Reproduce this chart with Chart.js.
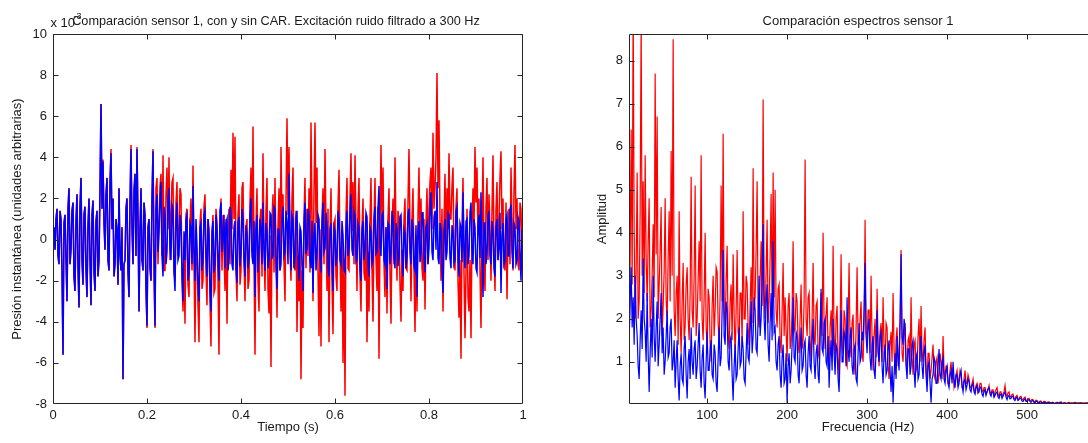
<!DOCTYPE html>
<html>
<head>
<meta charset="utf-8">
<script src="https://cdn.jsdelivr.net/npm/chart.js@4.4.0/dist/chart.umd.min.js"></script>
<style>
html, body { margin: 0; padding: 0; overflow: hidden; background: #fff; width: 1088px; height: 443px; }
canvas { position: absolute; top: 0; }
#timeChart { left: 0; }
#specChart { left: 580px; }
</style>
</head>
<body>
<canvas id="timeChart" width="552" height="443"></canvas>
<canvas id="specChart" width="556" height="443"></canvas>
<script>
// ticks (same as the matlab figure)
const tiempoTicks = [0, 0.2, 0.4, 0.6, 0.8, 1]
const presionTicks = [-8, -6, -4, -2, 0, 2, 4, 6, 8, 10]
const frecTicks = [100, 200, 300, 400, 500, 600]
const amplitudTicks = [1, 2, 3, 4, 5, 6, 7, 8]

// presion instantanea (x 10^-3), 1 s de registro
const presionConCar = [
  0.0, 0.6, -0.5, 1.0, 1.5, -0.8, -1.2, 1.4, 1.0, -1.6, -5.6, 0.8, 1.2, -1.0, -3.0, 1.5, 2.5, -1.2, -0.5, 1.4,
  1.8, -1.8, -2.5, 0.9, 2.2, -1.4, -3.3, 1.6, 3.0, -1.0, -2.2, 1.2, 1.6, -1.5, -2.8, 0.7, 2.0, -1.0, -3.2, 1.2,
  1.9, -1.6, -2.5, 0.9, 1.4, -1.8, -1.0, 2.5, 6.6, 1.5, 3.8, 0.8, -0.5, 2.2, 3.0, -1.0, -1.5, 2.8, 4.2, 0.5,
  2.0, -1.8, -1.2, 1.0, 0.5, -2.2, 2.5, -0.8, -1.5, 0.6, -6.8, -1.2, -1.0, 1.5, 2.0, -1.6, -2.8, 1.8, 4.4, 0.6,
  -1.2, 2.4, 3.2, -0.8, 4.4, 1.0, -3.5, 0.5, 2.5, -1.0, -1.5, 1.8, 1.2, -2.4, -4.2, 0.6, 1.0, -1.4, -2.0, 2.0,
  4.3, -0.5, -4.2, 1.5, 2.2, -0.6, 0.4, 1.9, 2.8, -0.8, -1.8, 1.6, 1.2, -1.2, -0.6, 2.0, 2.5, -0.4, -1.0, 1.7,
  1.5, -1.5, -2.5, 0.9, 1.8, -1.0, -0.8, 1.2, 0.8, -1.6, -3.0, 0.4, -1.0, 1.0, 1.2, -2.0, -1.6, 0.8, 0.6, -1.2,
  2.6, -0.6, -2.0, 1.0, -0.4, -2.2, -3.0, 0.6, 0.8, -1.5, -1.0, 1.2, 1.4, -0.8, -1.8, 1.0, 0.2, -2.4, -3.5, 0.4,
  0.9, -1.6, -1.2, 1.2, 0.5, -1.0, -2.0, 1.4, 1.8, -0.6, 0.2, 1.2, -1.4, 0.8, 1.0, -1.5, -0.8, 1.6, 1.3, -1.2,
  -1.5, 0.6, 0.9, -1.4, -2.1, 0.8, 1.1, -1.3, -0.6, 1.5, 1.0, -1.0, -1.8, 0.7, 0.3, -1.4, -0.9, 1.2, 2.0, -0.8,
  -1.2, 0.9, -2.8, 0.5, 1.2, -1.6, -0.5, 1.0, 0.6, -1.2, 1.8, -0.5, -1.5, 0.8, 0.4, -1.4, -1.0, 1.3, 1.2, -0.9,
  -0.8, 1.6, 1.5, -1.2, -2.4, 0.5, 0.5, -1.5, -1.2, 1.0, 1.6, -0.8, -0.6, 1.4, 0.8, -1.2, 3.2, 0.3, -1.5, 1.2,
  1.0, -1.4, -0.8, 1.1, 1.4, -0.9, -2.0, 0.6, 0.4, -1.3, -2.5, 0.8, 1.8, -0.7, -0.4, 1.5, 1.2, -1.0, -1.4, 0.9,
  -2.6, 0.2, 0.8, -1.5, -0.6, 1.2, 1.0, -0.8, -1.6, 0.7, 1.8, -0.6, -0.4, 1.3, 0.6, -1.4, -1.8, 0.5, 0.8, -1.2,
  -2.5, 0.6, 0.4, -1.3, -0.8, 1.4, 1.0, -1.0, -1.2, 0.9, 0.2, -1.5, -1.6, 0.6, 1.4, -0.8, -0.4, 1.2, 2.2, -0.5,
  -0.8, 1.4, 1.2, -1.1, -1.0, 0.8, 0.6, -1.4, -2.0, 0.5, 0.9, -1.0, -0.5, 1.3, 1.1, -1.2, -1.8, 0.6, 0.4, -1.2,
  -1.0, 1.0, 1.6, -0.7, -0.6, 1.5, 2.6, -0.4, -0.8, 1.2, 1.3, -1.0, -1.2, 0.6, -2.4, 0.8, 0.7, -1.2, -0.6, 1.4,
  1.0, -0.9, -1.4, 0.8, 0.5, -1.3, -0.9, 1.1, 1.2, -0.7, -1.8, 0.5, 0.3, -1.4, -0.8, 1.2, 1.5, -0.6, -1.2, 1.0,
  0.6, -1.3, -1.5, 0.7, -2.8, 0.4, 0.9, -1.1, -0.7, 1.3, 1.3, -0.8, -1.6, 0.6, 0.8, -1.2, -0.4, 1.6, 2.3, -0.6,
  -1.0, 1.1, 1.4, -0.5, 2.8, -0.9, -1.2, 0.8, 0.5, -1.5, -2.6, 0.4, 1.0, -1.0, -0.6, 1.3, 1.2, -0.9, -1.4, 0.7,
  0.4, -1.2, -1.0, 1.4, 1.6, -0.6, -1.8, 0.8, 0.6, -1.1, 2.3, -0.4, -1.4, 0.9, 1.0, -1.2, -0.8, 1.3, 1.8, -0.5,
  -1.2, 1.0, 0.6, -1.4, -1.6, 0.7, 1.2, -0.9, 2.3, -0.3, -2.8, 0.8, 0.8, -1.2, -0.6, 1.1, 1.4, -0.8, -1.2, 0.9,
  0.5, -1.4, -1.8, 0.6, 1.0, -1.0, -0.4, 1.3, -2.6, 0.3, 0.8, -1.2, -1.0, 1.0, 1.2, -0.8, -0.8, 1.4, 1.7, -0.6,
  -1.4, 0.8, 0.6, -1.2, -1.0, 1.1, 0.9, -0.7, -2.0, 0.5, -0.8
]

const presionSinCar = [
  0.0, 0.6, -0.5, 1.0, 1.5, -0.8, -1.2, 1.4, 1.0, -1.6, -5.6, 0.8, 1.2, -1.0, -3.0, 1.5, 2.5, -1.2, -0.5, 1.4,
  1.8, -1.8, -2.5, 0.9, 2.2, -1.4, -3.3, 1.6, 3.0, -1.0, -2.2, 1.2, 1.6, -1.5, -2.8, 0.7, 2.0, -1.0, -3.2, 1.2,
  1.9, -1.6, -2.5, 0.9, 1.4, -1.8, -1.0, 2.5, 6.6, 1.5, 3.9, 0.8, -0.5, 2.2, 3.0, -1.0, -1.5, 2.8, 4.4, 0.5,
  2.0, -1.8, -1.2, 1.0, 0.5, -2.2, 2.5, -0.8, -1.5, 0.6, -6.8, -1.2, -1.0, 1.5, 2.0, -1.6, -2.8, 1.8, 4.6, 0.6,
  -1.2, 2.4, 3.2, -0.8, 4.5, 1.0, -3.5, 0.5, 2.5, -1.0, -1.5, 1.8, 1.2, -2.4, -4.3, 0.6, 1.0, -1.4, -2.0, 2.0,
  4.4, -2.0, -4.3, 2.5, 3.0, -1.2, 0.8, 2.6, 3.2, -0.8, 4.1, -1.5, -1.5, 2.2, 3.5, 0.5, 4.0, -1.0, 1.2, 2.8,
  3.0, -1.6, -2.0, 1.8, 2.8, -0.8, 0.5, 2.5, 2.2, -2.0, -3.5, -1.0, -4.1, 1.2, 1.5, -2.2, -2.8, 0.8, 2.0, -1.5,
  3.6, -1.0, -5.0, 0.5, -1.0, -3.2, -5.0, 0.8, 1.5, -2.4, -2.0, 1.6, 2.2, -1.5, -3.2, 1.0, 0.5, -3.0, -5.2, 0.2,
  1.2, -2.6, -2.4, 1.5, 0.8, -2.0, -5.6, 0.6, 2.0, -1.5, 1.2, -0.5, -2.5, 1.0, -4.1, 0.8, 1.5, -1.2, 3.4, 0.5,
  5.2, 1.0, 5.0, -1.5, -3.0, 1.2, 2.2, -2.2, -1.5, 2.5, 2.8, -1.0, -3.0, 0.6, 1.0, -2.4, -2.0, 1.8, 3.5, -0.6,
  5.5, -1.0, -5.6, 0.8, 2.5, -2.0, -3.5, 1.0, 1.5, -1.8, 4.2, -0.5, -2.5, 1.4, 3.0, -2.4, -3.6, 0.2, -6.2, 1.0,
  2.2, -1.6, 3.0, -0.8, -3.8, 0.6, 2.5, -1.5, 4.5, 0.8, 2.2, -1.2, -3.0, 1.8, 5.9, 1.2, 4.5, -0.6, -2.0, 2.0,
  3.5, -1.2, -1.5, 1.4, -4.5, -0.8, -3.0, 0.5, -6.8, -1.5, -4.3, 1.0, 3.0, -1.4, 1.5, -0.8, 2.5, -1.6, 5.7, 1.2,
  -3.0, 2.4, 5.7, 0.8, 3.5, -1.6, -4.7, 0.5, -5.2, 1.0, 2.5, -1.2, 4.4, 0.6, -2.5, 1.5, -5.0, 0.2, 2.5, -2.0,
  -4.6, 0.8, 1.0, -1.8, -2.5, 1.6, 3.4, -0.6, -3.5, 0.4, -6.0, -1.0, -7.6, 1.2, 3.0, -1.4, -1.5, 2.0, 4.2, 0.4,
  2.8, -1.2, 4.1, 0.6, -2.5, 1.4, 3.0, -1.8, -3.5, 0.5, 2.0, -1.6, -2.0, 1.2, -5.0, -0.6, -3.5, 1.0, 3.0, -1.4,
  -4.0, 0.8, 3.0, -1.0, -2.5, 1.6, -5.8, 0.4, 4.6, 0.8, 3.5, -1.2, -2.8, 0.6, -3.6, 1.0, 2.5, -1.6, -4.1, 0.5,
  2.0, -1.2, 4.0, 0.4, -2.0, 1.4, 1.0, -2.2, -4.0, -0.5, -2.5, 1.0, 2.0, -1.4, -1.5, 1.8, 4.4, 0.6, -3.0, 1.0,
  2.5, -1.5, -4.5, 0.2, -3.5, 1.2, 3.5, -0.6, 2.0, -1.4, -2.0, 1.0, -3.4, 0.8, 2.5, -1.2, 1.5, 2.8, 3.5, 0.5,
  5.2, 1.5, 2.5, 4.0, 8.1, 2.5, 5.8, 1.0, -2.0, 1.5, -3.5, 0.8, 3.2, -0.6, 2.5, 0.5, 4.2, 1.0, 1.0, 2.6,
  3.5, -1.0, -1.5, 1.6, 2.5, -2.0, -3.8, -1.0, -5.8, 0.5, 3.0, -1.6, -4.8, -1.5, 1.5, -2.8, -3.5, -1.0, -4.8, 0.6,
  2.5, 0.5, 4.5, 1.8, 3.5, 0.2, 2.0, -1.5, -4.3, 0.4, 4.0, -0.8, -2.5, 1.6, 3.0, -1.0, 2.2, 0.5, -2.0, 1.4,
  4.1, -0.6, -2.5, 1.5, 2.8, -1.0, 1.0, 3.0, 4.3, 0.5, 2.0, -1.2, -1.5, 1.8, -2.9, 0.6, 1.5, -1.2, 3.5, 0.8,
  -1.5, 2.4, 4.6, 0.5, 2.0, -1.2, -1.5, 1.8, 1.5, -1.0, -2.0
]

// espectros, un valor cada 1.25 Hz empezando en 2.5 Hz
const f0 = 2.5
const df = 1.25
const espectroSinCar = [
  1.0, 3.5, 6.4, 2.8, 9.5, 4.0, 2.0, 3.2, 5.4, 2.0, 2.4, 4.5, 9.0, 3.0, 5.2, 2.6, 5.8, 3.4, 2.4, 3.8,
  4.8, 1.8, 2.2, 3.0, 4.2, 2.5, 7.7, 3.5, 6.7, 2.0, 2.8, 3.6, 4.6, 1.6, 2.3, 3.1, 4.8, 2.4, 2.0, 3.4,
  4.5, 2.4, 5.9, 3.0, 8.5, 2.2, 1.6, 2.6, 3.0, 1.4, 4.5, 2.0, 1.2, 2.4, 3.3, 1.5, 1.8, 2.8, 3.2, 2.0,
  1.5, 2.6, 5.3, 2.2, 1.8, 3.0, 5.1, 1.6, 2.0, 2.9, 3.8, 2.4, 5.8, 2.0, 1.5, 2.5, 4.0, 1.8, 1.3, 2.7,
  2.5, 1.4, 1.0, 2.3, 3.0, 1.6, 2.2, 3.2, 3.1, 1.9, 1.4, 2.6, 5.1, 2.4, 6.3, 2.2, 1.8, 2.9, 3.7, 1.6,
  1.3, 2.4, 2.8, 1.5, 3.5, 2.1, 1.1, 2.2, 3.6, 1.7, 1.5, 2.6, 2.6, 1.4, 4.5, 2.0, 2.0, 3.0, 2.8, 1.8,
  1.4, 2.3, 3.2, 1.9, 5.5, 2.2, 2.5, 3.6, 5.2, 2.0, 1.8, 2.9, 3.8, 2.3, 7.1, 2.6, 2.0, 3.1, 4.3, 1.9,
  2.4, 3.4, 4.9, 2.1, 5.4, 2.5, 5.0, 2.2, 1.8, 2.7, 2.8, 1.5, 1.2, 2.2, 3.3, 1.6, 2.5, 1.7, 1.0, 2.3,
  2.6, 1.3, 1.5, 2.2, 3.8, 1.7, 1.8, 2.6, 2.4, 1.4, 1.2, 2.0, 2.8, 1.3, 1.5, 2.4, 5.7, 2.0, 1.6, 2.5,
  2.6, 1.5, 1.0, 2.0, 3.3, 1.6, 1.4, 2.3, 2.4, 1.2, 1.1, 1.9, 2.6, 1.6, 4.0, 1.8, 1.3, 2.1, 2.5, 1.2,
  0.8, 1.8, 2.2, 1.3, 3.7, 1.6, 1.0, 2.0, 2.3, 1.1, 0.6, 1.7, 3.5, 1.4, 1.2, 2.2, 2.0, 1.0, 0.9, 1.8,
  3.3, 1.4, 1.1, 1.9, 2.1, 1.0, 0.7, 1.8, 3.2, 1.4, 1.3, 2.0, 2.4, 1.2, 1.0, 1.9, 4.3, 1.7, 1.5, 2.2,
  2.2, 1.2, 3.0, 1.5, 0.8, 1.6, 2.0, 1.1, 2.7, 1.4, 0.9, 1.7, 1.9, 1.0, 2.5, 1.3, 1.0, 1.9, 1.8, 0.9,
  0.6, 1.4, 1.7, 1.0, 2.6, 1.3, 0.7, 1.5, 1.8, 0.9, 1.2, 2.0, 3.6, 1.2, 1.0, 1.6, 1.9, 1.0, 0.8, 1.5,
  1.6, 0.9, 2.5, 1.1, 0.7, 1.4, 1.5, 0.8, 0.9, 1.6, 2.0, 1.0, 2.3, 1.2, 1.0, 1.5, 1.8, 0.8, 0.5, 1.2,
  1.2, 0.6, 0.8, 1.1, 1.4, 0.7, 0.6, 1.0, 1.1, 0.5, 0.7, 1.2, 1.0, 0.6, 1.6, 0.8, 0.6, 0.9, 0.9, 0.5,
  0.5, 0.8, 1.0, 0.6, 0.8, 0.4, 0.5, 0.7, 0.8, 0.5, 0.6, 0.8, 0.7, 0.4, 0.4, 0.6, 0.8, 0.5, 0.5, 0.7,
  0.6, 0.4, 0.4, 0.5, 0.6, 0.35, 0.3, 0.45, 0.5, 0.3, 0.4, 0.5, 0.5, 0.35, 0.3, 0.4, 0.4, 0.25, 0.3, 0.35,
  0.45, 0.3, 0.25, 0.35, 0.35, 0.2, 0.3, 0.35, 0.4, 0.25, 0.2, 0.3, 0.3, 0.2, 0.25, 0.3, 0.45, 0.25, 0.2, 0.28,
  0.3, 0.2, 0.18, 0.24, 0.25, 0.15, 0.15, 0.2, 0.22, 0.12, 0.14, 0.19, 0.2, 0.12, 0.12, 0.16, 0.18, 0.1, 0.1, 0.14,
  0.15, 0.09, 0.1, 0.13, 0.12, 0.07, 0.08, 0.11, 0.1, 0.06, 0.06, 0.09, 0.09, 0.05, 0.06, 0.08, 0.08, 0.05, 0.05, 0.07,
  0.07, 0.05, 0.05, 0.06, 0.06, 0.04, 0.04, 0.05, 0.06, 0.04, 0.05, 0.06, 0.07, 0.04, 0.04, 0.05, 0.05, 0.03, 0.04, 0.05,
  0.06, 0.04, 0.05, 0.03, 0.04, 0.05, 0.06, 0.04, 0.05, 0.03, 0.04, 0.05, 0.05, 0.04, 0.03, 0.04, 0.05, 0.03, 0.04, 0.05,
  0.05, 0.03, 0.04, 0.05, 0.03, 0.04, 0.05, 0.03, 0.04, 0.03, 0.03, 0.04, 0.04, 0.03, 0.05, 0.04, 0.03, 0.04, 0.04, 0.03
]

const espectroConCar = [
  1.6, 2.4, 3.2, 1.8, 2.5, 1.4, 3.0, 2.0, 1.6, 0.9, 0.6, 1.5, 2.2, 1.3, 3.4, 2.0, 1.7, 1.0, 2.6, 1.2,
  0.3, 1.2, 2.0, 1.1, 3.0, 1.6, 1.0, 1.8, 2.4, 0.9, 1.4, 2.0, 2.6, 1.2, 1.8, 0.7, 1.0, 1.6, 2.2, 1.1,
  1.2, 1.8, 2.0, 0.8, 1.0, 1.5, 0.4, 1.0, 1.5, 0.6, 0.1, 0.9, 1.2, 0.6, 0.5, 1.3, 1.6, 0.7, 0.15, 1.0,
  1.3, 0.6, 1.8, 1.0, 0.7, 1.3, 1.5, 0.6, 0.9, 1.4, 1.9, 0.8, 0.4, 1.1, 1.4, 0.5, 0.15, 1.0, 1.7, 0.8,
  0.8, 1.3, 1.5, 0.7, 0.6, 1.4, 1.2, 0.5, 0.3, 1.1, 1.8, 0.9, 1.1, 2.2, 3.6, 1.6, 1.4, 2.4, 2.2, 1.0,
  0.8, 1.5, 1.6, 0.7, 0.1, 0.9, 1.4, 0.6, 0.7, 1.3, 1.8, 0.9, 1.0, 1.6, 1.3, 0.6, 0.5, 1.2, 1.9, 1.1,
  1.0, 1.7, 2.4, 1.2, 1.6, 2.5, 2.2, 1.3, 1.2, 2.0, 3.0, 1.6, 2.0, 2.9, 4.2, 2.0, 1.5, 2.4, 2.8, 1.4,
  1.0, 1.9, 2.6, 1.5, 3.8, 1.7, 1.8, 1.0, 0.8, 1.4, 1.6, 0.7, 0.4, 1.1, 1.4, 0.5, 0.6, 1.2, 0.05, 0.9,
  1.2, 0.5, 0.8, 1.4, 2.5, 1.1, 1.0, 1.7, 1.6, 0.7, 0.5, 1.3, 1.8, 0.8, 0.9, 1.4, 1.5, 0.7, 0.4, 1.2,
  1.6, 0.9, 0.8, 1.5, 2.0, 1.0, 0.6, 1.2, 1.4, 0.7, 0.5, 1.5, 2.7, 1.3, 1.2, 1.9, 2.0, 1.0, 0.9, 1.6,
  0.4, 1.1, 1.5, 0.8, 2.0, 1.2, 0.7, 1.4, 1.3, 0.6, 0.3, 1.2, 2.2, 1.0, 1.0, 1.7, 1.6, 0.9, 2.5, 1.3,
  1.0, 1.6, 1.8, 0.9, 0.7, 1.3, 1.4, 0.6, 0.5, 1.2, 1.9, 1.0, 1.1, 1.7, 1.5, 2.2, 3.3, 1.6, 1.2, 1.8,
  2.0, 1.1, 0.8, 1.4, 1.6, 0.8, 0.6, 1.3, 2.2, 1.2, 1.0, 1.6, 1.7, 0.9, 0.5, 1.2, 1.4, 0.7, 0.8, 1.3,
  1.5, 0.8, 0.3, 0.9, 0.05, 0.7, 1.2, 0.6, 1.6, 1.1, 0.8, 1.9, 3.5, 1.6, 1.4, 2.0, 1.8, 0.9, 0.6, 1.3,
  1.3, 0.7, 0.9, 1.4, 1.5, 0.8, 0.4, 1.1, 1.2, 0.6, 0.7, 1.3, 1.6, 0.9, 0.6, 1.2, 1.4, 0.7, 0.3, 0.9,
  1.0, 0.5, 0.05, 0.6, 0.7, 1.1, 1.0, 0.5, 0.5, 0.9, 1.3, 0.7, 0.6, 1.0, 1.1, 0.6, 0.5, 0.8, 0.9, 0.5,
  0.4, 0.7, 0.8, 0.5, 1.0, 0.6, 0.4, 0.7, 0.7, 0.4, 0.5, 0.7, 0.8, 0.45, 0.3, 0.55, 0.6, 0.35, 0.45, 0.6,
  0.55, 0.35, 0.3, 0.45, 0.5, 0.3, 0.25, 0.4, 0.45, 0.28, 0.3, 0.42, 0.4, 0.25, 0.2, 0.32, 0.35, 0.22, 0.3, 0.38,
  0.4, 0.25, 0.2, 0.3, 0.3, 0.18, 0.22, 0.28, 0.3, 0.18, 0.15, 0.24, 0.25, 0.15, 0.2, 0.26, 0.3, 0.18, 0.12, 0.2,
  0.22, 0.14, 0.15, 0.2, 0.2, 0.12, 0.1, 0.16, 0.18, 0.1, 0.12, 0.16, 0.15, 0.09, 0.08, 0.12, 0.14, 0.08, 0.08, 0.11,
  0.12, 0.08, 0.06, 0.09, 0.1, 0.06, 0.05, 0.08, 0.08, 0.05, 0.05, 0.07, 0.07, 0.04, 0.04, 0.06, 0.06, 0.04, 0.04, 0.05,
  0.05, 0.03, 0.04, 0.05, 0.05, 0.03, 0.03, 0.04, 0.05, 0.03, 0.04, 0.05, 0.05, 0.03, 0.03, 0.04, 0.04, 0.03, 0.03, 0.04,
  0.04, 0.03, 0.03, 0.04, 0.04, 0.03, 0.05, 0.03, 0.03, 0.04, 0.04, 0.03, 0.03, 0.04, 0.04, 0.03, 0.03, 0.04, 0.04, 0.03,
  0.03, 0.04, 0.04, 0.03, 0.03, 0.04, 0.04, 0.03, 0.03, 0.04, 0.04, 0.03, 0.03, 0.04, 0.04, 0.03, 0.03, 0.04, 0.03, 0.03
]

const rojo = '#ff0000'
const azul = '#0000ff'
const texto = '#1a1a1a'
const familia = "'Liberation Sans', Arial, sans-serif"
const fuente = { family: familia, size: 13, weight: 'normal' }

const dt = 1 / (presionConCar.length - 1)
const serieTiempo = vals => vals.map((v, i) => ({ x: i * dt, y: v }))
const serieFrec = vals => vals.map((v, n) => ({ x: f0 + n * df, y: v }))

// ejes tipo matlab: caja cerrada, ticks hacia dentro, titulo y exponente
const matlabAxes = {
  id: 'matlabAxes',
  afterDatasetsDraw(chart, args, opts) {
    const { ctx, chartArea: a, scales: { x, y } } = chart
    const len = 5
    const L = Math.round(a.left) + 0.5, R = Math.round(a.right) - 0.5
    const T = Math.round(a.top) + 0.5, B = Math.round(a.bottom) - 0.5
    ctx.save()
    ctx.strokeStyle = '#262626'
    ctx.lineWidth = 1
    ctx.beginPath()
    x.ticks.forEach(t => {
      const px = Math.round(x.getPixelForValue(t.value)) + 0.5
      if (px < L || px > R) return
      ctx.moveTo(px, B); ctx.lineTo(px, B - len)
      ctx.moveTo(px, T); ctx.lineTo(px, T + len)
    })
    y.ticks.forEach(t => {
      const py = Math.round(y.getPixelForValue(t.value)) + 0.5
      if (py < T || py > B) return
      ctx.moveTo(L, py); ctx.lineTo(L + len, py)
      ctx.moveTo(R, py); ctx.lineTo(R - len, py)
    })
    ctx.rect(L, T, R - L, B - T)
    ctx.stroke()

    ctx.fillStyle = texto
    ctx.textBaseline = 'middle'
    if (opts.exponent) {
      ctx.textAlign = 'left'
      ctx.font = '13px ' + familia
      ctx.fillText('x 10', L - 3, T - 11)
      ctx.font = '9px ' + familia
      ctx.fillText(opts.exponent, L + 20, T - 18)
    }
    if (opts.title) {
      ctx.textAlign = 'center'
      ctx.font = opts.titleSize + 'px ' + familia
      ctx.fillText(opts.title, opts.titleX, 21)
    }
    ctx.restore()
  }
}

const ejeX = (min, max, ticks, label) => ({
  type: 'linear', min, max,
  afterBuildTicks: s => { s.ticks = ticks.map(v => ({ value: v })) },
  afterFit: s => { s.height = 39 },
  grid: { display: false, drawTicks: false },
  border: { display: false },
  ticks: { color: texto, font: fuente, padding: 4, maxRotation: 0, autoSkip: false, callback: v => String(v) },
  title: { display: true, text: label, color: texto, font: fuente, padding: { top: 0, bottom: 8 } }
})

const ejeY = (min, max, ticks, label, width, titlePad) => ({
  type: 'linear', min, max,
  afterBuildTicks: s => { s.ticks = ticks.map(v => ({ value: v })) },
  afterFit: s => { s.width = width },
  grid: { display: false, drawTicks: false },
  border: { display: false },
  ticks: { color: texto, font: fuente, padding: 6, autoSkip: false, callback: v => String(v) },
  title: { display: true, text: label, color: texto, font: fuente, padding: { top: titlePad, bottom: 0 } }
})

const opcionesBase = (axesOpts, grosor) => ({
  responsive: false,
  animation: false,
  devicePixelRatio: 1,
  elements: { point: { radius: 0 }, line: { borderWidth: grosor, tension: 0 } },
  layout: { padding: { right: 29, left: 0, top: 34, bottom: 0 } },
  plugins: {
    legend: { display: false },
    tooltip: { enabled: false },
    title: { display: false },
    matlabAxes: axesOpts
  }
})

const renderTiempo = () => {
  const options = opcionesBase({
    title: 'Comparación sensor 1, con y sin CAR. Excitación ruido filtrado a 300 Hz',
    titleX: 276,
    titleSize: 12.7,
    exponent: '-3'
  }, 1.5)
  options.scales = {
    x: ejeX(0, 1, tiempoTicks, 'Tiempo (s)'),
    y: ejeY(-8, 10, presionTicks, 'Presión instantánea (unidades arbitrarias)', 53, 9.7)
  }
  // el azul va primero para quedar dibujado encima
  const data = {
    datasets: [
      { label: 'con CAR', data: serieTiempo(presionConCar), borderColor: azul },
      { label: 'sin CAR', data: serieTiempo(presionSinCar), borderColor: rojo }
    ]
  }
  new Chart('timeChart', { type: 'line', data, options, plugins: [matlabAxes] })
}

const renderEspectro = () => {
  const options = opcionesBase({ title: 'Comparación espectros sensor 1', titleX: 278, titleSize: 13 }, 1.2)
  options.scales = {
    x: ejeX(2.3, 600, frecTicks, 'Frecuencia (Hz)'),
    y: ejeY(0.02, 8.62, amplitudTicks, 'Amplitud', 49, 14.2)
  }
  const data = {
    datasets: [
      { label: 'con CAR', data: serieFrec(espectroConCar), borderColor: azul },
      { label: 'sin CAR', data: serieFrec(espectroSinCar), borderColor: rojo }
    ]
  }
  new Chart('specChart', { type: 'line', data, options, plugins: [matlabAxes] })
}

renderTiempo()
renderEspectro()
</script>
</body>
</html>
